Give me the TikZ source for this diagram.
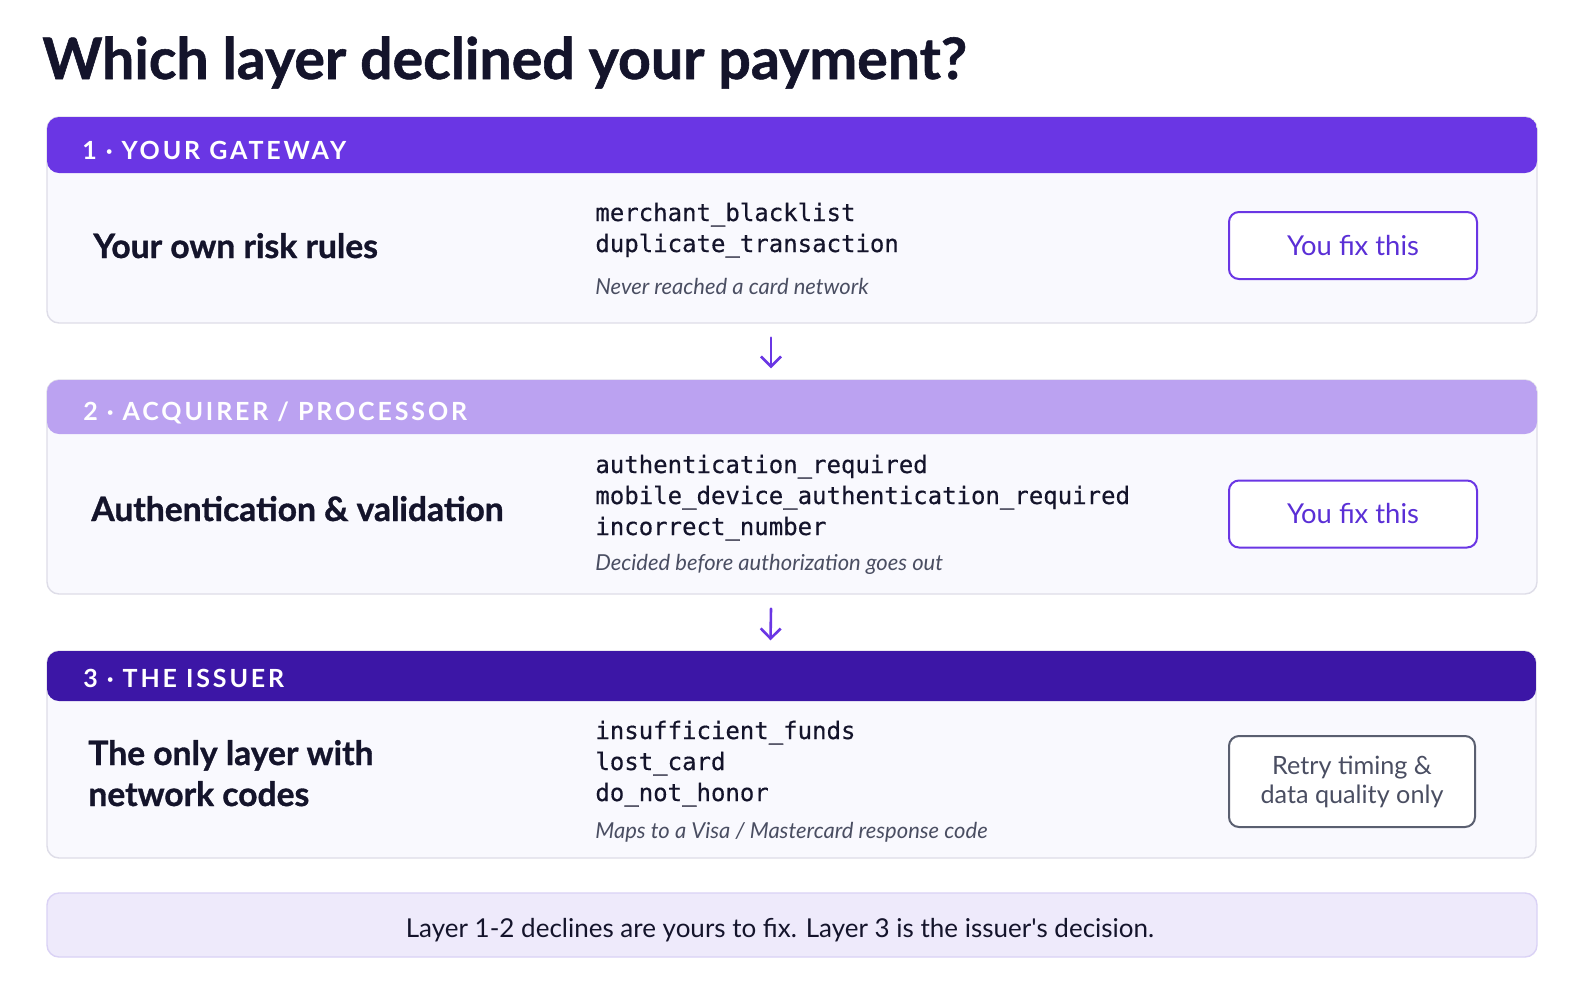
\documentclass[tikz,border=0pt]{standalone}
\usepackage{fontspec}
\setmainfont{Lato}
\newfontfamily\codefont{DejaVu Sans Mono}[FakeBold=0.4]
\usetikzlibrary{positioning, arrows.meta}

\definecolor{gwpurple}{HTML}{6A36E4}
\definecolor{acqpurple}{HTML}{BBA2F1}
\definecolor{isspurple}{HTML}{3C16A6}
\definecolor{cardbg}{HTML}{F9F9FE}
\definecolor{cardline}{HTML}{DEDDE8}
\definecolor{inkdark}{HTML}{14142B}
\definecolor{inkgray}{HTML}{4A4E62}
\definecolor{btnpurple}{HTML}{5A2FD6}
\definecolor{btngray}{HTML}{5A5F70}
\definecolor{notebg}{HTML}{EEEAFB}
\definecolor{noteline}{HTML}{DAD2F5}

\tikzset{
  layercard/.style={draw=cardline, line width=0.7pt, fill=cardbg, rounded corners=6pt,
    inner sep=0pt, minimum width=745pt},
  band/.style 2 args={postaction={path picture={
    \fill[#1] (path picture bounding box.north west) rectangle
      ([yshift=-#2]path picture bounding box.north east);}}},
  bandlabel/.style={anchor=base west, inner sep=0pt, text=white,
    font=\bfseries\fontsize{12.5}{15}\selectfont\addfontfeatures{LetterSpace=11.5}},
  heading/.style={anchor=base west, inner sep=0pt, text=inkdark, align=left,
    font=\bfseries\fontsize{16.8}{20.5}\selectfont\addfontfeatures{FakeBold=1}},
  codelist/.style={anchor=base west, inner sep=0pt, text=inkdark, align=left,
    font=\codefont\fontsize{12}{15.5}\selectfont},
  remark/.style={anchor=base west, inner sep=0pt, text=inkgray,
    font=\itshape\fontsize{11}{13}\selectfont},
  fixbtn/.style={draw=gwpurple, line width=1pt, fill=white, rounded corners=5pt,
    minimum width=124pt, minimum height=33.5pt, text=btnpurple,
    font=\fontsize{13.7}{16}\selectfont},
  retrybtn/.style={fixbtn, draw=btngray, text=inkgray, align=center,
    minimum width=123pt, minimum height=45.5pt, font=\fontsize{12.6}{14.5}\selectfont},
  flowarrow/.style={-{Straight Barb[length=5pt,width=10pt]}, line width=1.3pt,
    draw=gwpurple, line cap=round},
}

\begin{document}
\begin{tikzpicture}[x=0.5pt, y=-0.5pt]

    % Page size and background
    \fill[white] (0,0) rectangle (1586,992);
    \useasboundingbox (0,0) rectangle (1586,992);

    % Title
    \node[anchor=base west, inner sep=0pt, text=inkdark,
      font=\bfseries\fontsize{28.6}{34}\selectfont\addfontfeatures{FakeBold=1}] (title) at (42,79)
      {Which layer declined your payment?};

    % Draw the three layer cards
    \node[layercard, band={gwpurple}{28pt}, minimum height=103pt] (gw) at (792,220) {};
    \node[layercard, band={acqpurple}{27pt}, minimum height=107pt] (acq) at (792,487) {};
    \node[layercard, band={isspurple}{25pt}, minimum height=103.5pt,
      minimum width=744.5pt] (iss) at (791.5,754.5) {};

    % Label the bands
    \node[bandlabel] (gwlabel) at (82,159) {1 · YOUR GATEWAY};
    \node[bandlabel] (acqlabel) at (83,420) {2 · ACQUIRER / PROCESSOR};
    \node[bandlabel] (isslabel) at (83,687) {3 · THE ISSUER};

    % Layer 1
    \node[heading] (gwhead) at (93,258) {Your own risk rules};
    \node[codelist] (gwcodes) at (595,252)
      {\detokenize{merchant_blacklist}\\\detokenize{duplicate_transaction}};
    \node[remark] (gwnote) at (595,294) {Never reached a card network};
    \node[fixbtn] (gwbtn) at (1353,245.5) {You fix this};

    % Layer 2
    \node[heading] (acqhead) at (91,521) {Authentication \& validation};
    \node[codelist] (acqcodes) at (595,535)
      {\detokenize{authentication_required}\\\detokenize{mobile_device_authentication_required}\\\detokenize{incorrect_number}};
    \node[remark] (acqnote) at (595,570) {Decided before authorization goes out};
    \node[fixbtn] (acqbtn) at (1353,514) {You fix this};

    % Layer 3
    \node[heading] (isshead) at (88,806) {The only layer with\\network codes};
    \node[codelist] (isscodes) at (595,801)
      {\detokenize{insufficient_funds}\\\detokenize{lost_card}\\\detokenize{do_not_honor}};
    \node[remark] (issnote) at (595,838) {Maps to a Visa / Mastercard response code};
    \node[retrybtn] (issbtn) at (1352,781.5) {Retry timing \&\\data quality only};

    % Arrows between the layers
    \draw[flowarrow] ([xshift=-10.5pt, yshift=-7pt]gw.south) -- ([xshift=-10.5pt, yshift=5.5pt]acq.north);
    \draw[flowarrow] ([xshift=-10.5pt, yshift=-7pt]acq.south) -- ([xshift=-10.5pt, yshift=5pt]iss.north);

    % Summary note
    \node[draw=noteline, line width=0.7pt, fill=notebg, rounded corners=6pt,
      minimum width=745pt, minimum height=32pt] (summary) at (792,925) {};
    \node[inner sep=0pt, text=inkdark, font=\fontsize{13}{16}\selectfont]
      (summarytext) at ([xshift=-6pt, yshift=-2.5pt]summary.center)
      {Layer 1-2 declines are yours to fix. Layer 3 is the issuer\textquotesingle s decision.};

\end{tikzpicture}
\end{document}
